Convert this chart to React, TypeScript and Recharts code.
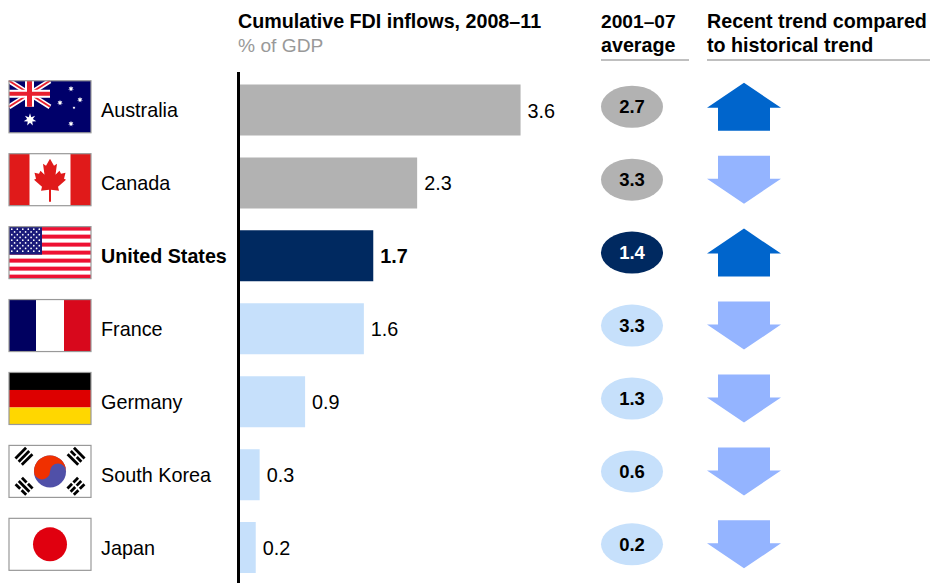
import React from "react";
import { BarChart, Bar, XAxis, YAxis, Cell } from "recharts";

const countries = ["Australia", "Canada", "United States", "France", "Germany", "South Korea", "Japan"];
const inflows = [3.6, 2.28, 1.72, 1.6, 0.85, 0.27, 0.22];
const inflowLabels = ["3.6", "2.3", "1.7", "1.6", "0.9", "0.3", "0.2"];
const averages = ["2.7", "3.3", "1.4", "3.3", "1.3", "0.6", "0.2"];
const trends = ["up", "down", "up", "down", "down", "down", "down"];
const barColors = ["#b2b2b2", "#b2b2b2", "#002960", "#c6e0fb", "#c6e0fb", "#c6e0fb", "#c6e0fb"];

const rows = countries.map((country, i) => ({ country, inflow: inflows[i] }));
const FONT = "'Liberation Sans', Arial, sans-serif";
const FLAG_W = 82;
const FLAG_H = 52;

const leafRight = [[0,5],[4,12],[7,10],[5.5,21],[9.5,17],[11,20],[15.5,19],[14,25],[16,26],[8,33],[9,37],[1,36],[1,48]];
const leafPts = [...leafRight, ...leafRight.slice().reverse().map(([x, y]) => [-x, y])]
  .map(([x, y]) => `${41 + x},${y}`).join(" ");

function starPts(cx: number, cy: number, r: number, n = 7) {
  const p: string[] = [];
  for (let i = 0; i < n * 2; i++) {
    const a = (Math.PI * i) / n - Math.PI / 2;
    const rr = i % 2 ? r * 0.45 : r;
    p.push(`${cx + rr * Math.cos(a)},${cy + rr * Math.sin(a)}`);
  }
  return p.join(" ");
}

function Flag({ name }: { name: string }) {
  const w = FLAG_W, h = FLAG_H;
  let body: React.ReactNode = null;
  if (name === "Australia") {
    body = (
      <g>
        <rect width={w} height={h} fill="#00006a" />
        <g>
          <line x1={0} y1={0} x2={41} y2={26} stroke="#fff" strokeWidth={5} />
          <line x1={41} y1={0} x2={0} y2={26} stroke="#fff" strokeWidth={5} />
          <line x1={0} y1={0} x2={41} y2={26} stroke="#e8202e" strokeWidth={2} />
          <line x1={41} y1={0} x2={0} y2={26} stroke="#e8202e" strokeWidth={2} />
          <rect x={16} y={0} width={9} height={26} fill="#fff" />
          <rect x={0} y={9} width={41} height={8} fill="#fff" />
          <rect x={18} y={0} width={5} height={26} fill="#e8202e" />
          <rect x={0} y={11} width={41} height={4} fill="#e8202e" />
        </g>
        <polygon points={starPts(21, 39, 6.5)} fill="#fff" />
        <polygon points={starPts(62, 8, 3)} fill="#fff" />
        <polygon points={starPts(51, 22, 3)} fill="#fff" />
        <polygon points={starPts(71, 19, 3)} fill="#fff" />
        <polygon points={starPts(65, 27, 1.6)} fill="#fff" />
        <polygon points={starPts(62, 43, 3)} fill="#fff" />
      </g>
    );
  } else if (name === "Canada") {
    body = (
      <g>
        <rect width={w} height={h} fill="#fff" />
        <rect width={20.5} height={h} fill="#e01a1a" />
        <rect x={w - 20.5} width={20.5} height={h} fill="#e01a1a" />
        <polygon points={leafPts} fill="#e01a1a" />
      </g>
    );
  } else if (name === "United States") {
    const stripes = Array.from({ length: 13 }, (_, i) => i);
    const sh = h / 13;
    const dots: React.ReactNode[] = [];
    for (let r = 0; r < 9; r++) {
      const n = r % 2 ? 5 : 6;
      for (let c = 0; c < n; c++) {
        dots.push(<circle key={`${r}-${c}`} cx={(r % 2 ? 5.6 : 2.8) + c * 5.5} cy={2.6 + r * 2.75} r={0.85} fill="#fff" />);
      }
    }
    body = (
      <g>
        <rect width={w} height={h} fill="#fff" />
        {stripes.map((i) => i % 2 === 0 ? <rect key={i} y={i * sh} width={w} height={sh} fill="#ee1133" /> : null)}
        <rect width={33} height={sh * 7} fill="#1a1a7a" />
        {dots}
      </g>
    );
  } else if (name === "France") {
    body = (
      <g>
        <rect width={w} height={h} fill="#fff" />
        <rect width={27} height={h} fill="#000060" />
        <rect x={55} width={27} height={h} fill="#d8081c" />
      </g>
    );
  } else if (name === "Germany") {
    body = (
      <g>
        <rect width={w} height={17.5} fill="#000" />
        <rect y={17.5} width={w} height={17.5} fill="#dd0000" />
        <rect y={35} width={w} height={17} fill="#ffd700" />
      </g>
    );
  } else if (name === "South Korea") {
    const cx = 41, cy = 26, r = 16;
    const groups: [number, number, number, number[][]][] = [
      [15, 11, -45, [[1,1],[1,1],[1,1]]],
      [67, 11, 45, [[1,1],[0,0],[1,1]]],
      [15, 41, 45, [[0,0],[1,1],[0,0]]],
      [67, 41, -45, [[0,0],[0,0],[0,0]]],
    ];
    body = (
      <g>
        <rect width={w} height={h} fill="#fff" />
        <circle cx={cx} cy={cy} r={r} fill="#5050a8" />
        <path d={`M${cx - r} ${cy} A${r} ${r} 0 0 1 ${cx + r} ${cy} A${r / 2} ${r / 2} 0 0 0 ${cx} ${cy} A${r / 2} ${r / 2} 0 0 1 ${cx - r} ${cy} Z`} fill="#f03000" />
        {groups.map(([gx, gy, rot, bars], gi) => (
          <g key={gi} transform={`translate(${gx},${gy}) rotate(${rot})`}>
            {bars.map((b, bi) => {
              const y = -6 + bi * 4.5;
              return b[0]
                ? <rect key={bi} x={-7.5} y={y} width={15} height={2.8} fill="#000" />
                : <g key={bi}>
                    <rect x={-7.5} y={y} width={6.5} height={2.8} fill="#000" />
                    <rect x={1} y={y} width={6.5} height={2.8} fill="#000" />
                  </g>;
            })}
          </g>
        ))}
      </g>
    );
  } else {
    body = (
      <g>
        <rect width={w} height={h} fill="#fff" />
        <circle cx={41} cy={26} r={17} fill="#e0000f" />
      </g>
    );
  }
  return (
    <g>
      {body}
      <rect x={0} y={0} width={w} height={h} fill="none" stroke="#999" strokeWidth={1.2} />
    </g>
  );
}

function RowTick(props: any) {
  const { y, payload } = props;
  const i = countries.indexOf(payload.value);
  const bold = payload.value === "United States";
  const up = trends[i] === "up";
  const cy = y - 3.2;
  const arrow = up
    ? `744,${cy - 24} 781,${cy + 1} 770,${cy + 1} 770,${cy + 24} 718,${cy + 24} 718,${cy + 1} 707,${cy + 1}`
    : `718,${cy - 24} 770,${cy - 24} 770,${cy - 1} 781,${cy - 1} 744,${cy + 24} 707,${cy - 1} 718,${cy - 1}`;
  return (
    <g style={{ fontFamily: FONT }}>
      <g transform={`translate(9,${cy - 26})`}><Flag name={payload.value} /></g>
      <text x={101} y={y + 7.5} fontSize={bold ? 19.7 : 19.8} fontWeight={bold ? 700 : 400} fill="#000">{payload.value}</text>
      <ellipse cx={632} cy={cy} rx={31} ry={21} fill={barColors[i]} />
      <text x={632} y={cy + 6.5} textAnchor="middle" fontSize={18.5} fontWeight={700} fill={bold ? "#fff" : "#000"}>{averages[i]}</text>
      <polygon points={arrow} fill={up ? "#0065cc" : "#94b4ff"} />
    </g>
  );
}

function ValueLabel(props: any) {
  const { x, y, width, height, index } = props;
  return (
    <text x={x + width + 7} y={y + height / 2 + 7.5} fontSize={19.8} fontFamily={FONT}
      fontWeight={index === 2 ? 700 : 400} fill="#000">{inflowLabels[index]}</text>
  );
}

function Header() {
  const bold = { fontFamily: FONT, fontSize: 19.7, fontWeight: 700, fill: "#000" } as const;
  return (
    <svg width={930} height={70} style={{ position: "absolute", left: 0, top: 0 }}>
      <text x={238} y={28} {...bold}>Cumulative FDI inflows, 2008–11</text>
      <text x={238} y={52} fontFamily={FONT} fontSize={19.2} fill="#999">% of GDP</text>
      <text x={601} y={28} {...bold} fontSize={19.2}>2001–07</text>
      <text x={601} y={52} {...bold}>average</text>
      <text x={707} y={28} {...bold}>Recent trend compared</text>
      <text x={707} y={52} {...bold}>to historical trend</text>
      <line x1={601} x2={689} y1={60} y2={60} stroke="#808080" strokeWidth={1} />
      <line x1={707} x2={930} y1={60} y2={60} stroke="#808080" strokeWidth={1} />
    </svg>
  );
}

export default function App() {
  return (
    <div style={{ position: "absolute", left: 0, top: 0, width: 930, height: 583, overflow: "hidden", background: "#fff" }}>
      <Header />
      <div style={{ position: "absolute", left: 0, top: 0 }}>
        <BarChart width={930} height={584} data={rows} layout="vertical"
          margin={{ top: 72, right: 2, bottom: 0, left: 0 }} barSize={51}>
          <XAxis type="number" hide domain={[0, 8.8]} />
          <YAxis type="category" dataKey="country" width={238.5} interval={0}
            padding={{ top: 1.5, bottom: 0 }} tickLine={false}
            axisLine={{ stroke: "#000", strokeWidth: 3 }} tick={RowTick} />
          <Bar dataKey="inflow" isAnimationActive={false} label={ValueLabel}>
            {rows.map((r, i) => <Cell key={r.country} fill={barColors[i]} />)}
          </Bar>
        </BarChart>
      </div>
    </div>
  );
}
